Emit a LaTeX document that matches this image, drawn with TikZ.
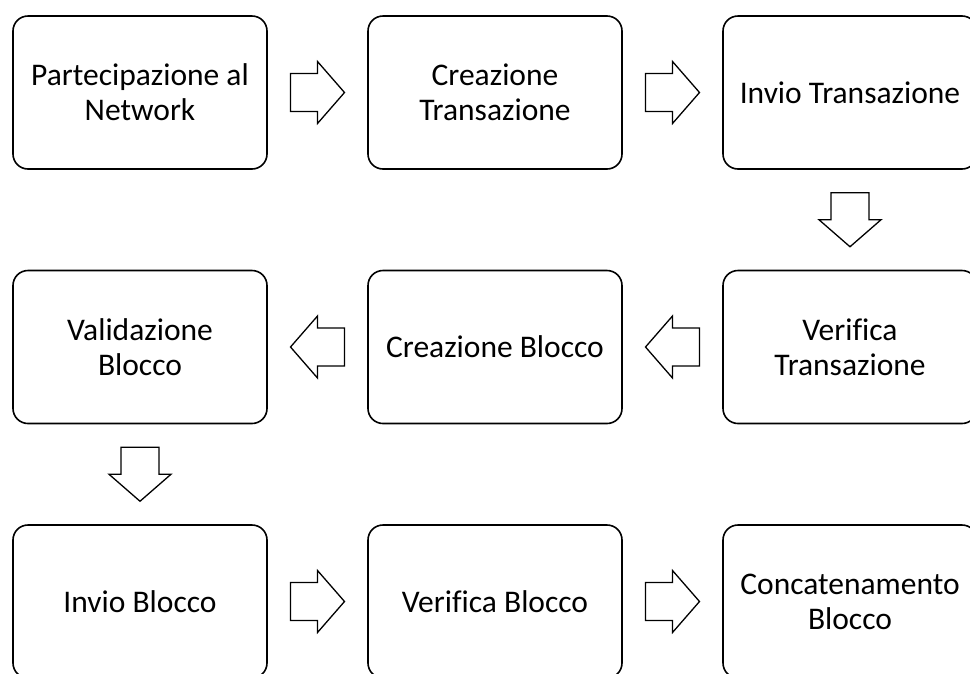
\documentclass[tikz,border=0pt]{standalone}
\usepackage{fontspec}
\setmainfont[Ligatures=CommonOff]{Carlito}
\usetikzlibrary{calc}
\tikzset{
  stepbox/.style={draw=black, line width=1.6pt, rounded corners=15pt, fill=white,
    minimum width=254pt, minimum height=153pt, inner sep=0pt,
    align=center, font=\fontsize{31.5}{35}\selectfont},
  arrowline/.style={draw=black, line width=1.3pt, fill=white, line join=miter},
  blockarr/.pic={\path[arrowline] (-27,-19) -- (0,-19) -- (0,-31) -- (27,0) -- (0,31) -- (0,19) -- (-27,19) -- cycle;}
}
\begin{document}
\begin{tikzpicture}[x=1pt,y=-1pt]
\useasboundingbox (0,0) rectangle (970,673);
\clip (0,0) rectangle (970,673);
\node[stepbox] (b1) at (140,92.5) {Partecipazione al\\Network};
\node[stepbox] (b2) at (495,92.5) {Creazione\\Transazione};
\node[stepbox] (b3) at (850,92.5) {Invio Transazione};
\node[stepbox] (b4) at (850,347) {Verif{}ica\\Transazione};
\node[stepbox] (b5) at (495,347) {Creazione Blocco};
\node[stepbox] (b6) at (140,347) {Validazione\\Blocco};
\node[stepbox] (b7) at (140,601.5) {Invio Blocco};
\node[stepbox] (b8) at (495,601.5) {Verif{}ica Blocco};
\node[stepbox] (b9) at (850,601.5) {Concatenamento\\Blocco};
\pic at ($(b1.east)!0.5!(b2.west)$) {blockarr};
\pic at ($(b2.east)!0.5!(b3.west)$) {blockarr};
\pic[rotate=-90] at ($(b3.south)!0.5!(b4.north)$) {blockarr};
\pic[rotate=180] at ($(b4.west)!0.5!(b5.east)$) {blockarr};
\pic[rotate=180] at ($(b5.west)!0.5!(b6.east)$) {blockarr};
\pic[rotate=-90] at ($(b6.south)!0.5!(b7.north)$) {blockarr};
\pic at ($(b7.east)!0.5!(b8.west)$) {blockarr};
\pic at ($(b8.east)!0.5!(b9.west)$) {blockarr};
\end{tikzpicture}
\end{document}
